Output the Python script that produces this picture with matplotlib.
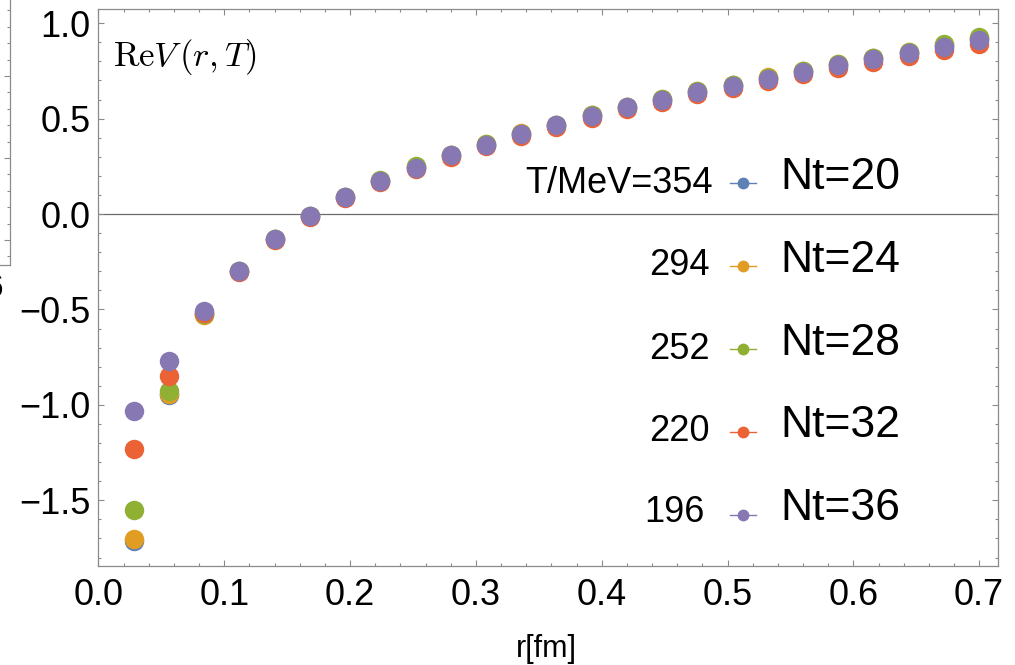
import matplotlib
matplotlib.use('Agg')
import matplotlib.pyplot as plt
import numpy as np
from matplotlib.lines import Line2D
from matplotlib.ticker import FuncFormatter, MultipleLocator

plt.rcParams['font.family'] = ['Liberation Sans', 'DejaVu Sans']
plt.rcParams['mathtext.fontset'] = 'cm'

# separations in units of the lattice spacing a = 0.028 fm
r_fm = 0.028 * np.arange(1, 26)

nt = [20, 24, 28, 32, 36]
temps = ['T/MeV=354', '294', '252', '220', '196']
colors = ['#5E81B5', '#E19C24', '#8FB032', '#EB6235', '#8778B3']

rev_nt20 = [-1.712, -0.950, -0.522, -0.298, -0.132, -0.010, 0.090, 0.173,
            0.245, 0.309, 0.364, 0.421, 0.467, 0.517, 0.561, 0.600, 0.640,
            0.675, 0.712, 0.748, 0.782, 0.815, 0.846, 0.881, 0.917]
rev_nt24 = [-1.705, -0.945, -0.528, -0.300, -0.133, -0.011, 0.091, 0.175,
            0.247, 0.311, 0.366, 0.422, 0.469, 0.518, 0.563, 0.602, 0.643,
            0.678, 0.716, 0.750, 0.784, 0.817, 0.850, 0.884, 0.920]
rev_nt28 = [-1.551, -0.926, -0.526, -0.301, -0.133, -0.011, 0.091, 0.176,
            0.249, 0.311, 0.365, 0.421, 0.469, 0.518, 0.562, 0.602, 0.642,
            0.676, 0.714, 0.751, 0.785, 0.818, 0.849, 0.889, 0.926]
rev_nt32 = [-1.233, -0.849, -0.520, -0.303, -0.137, -0.016, 0.085, 0.167,
            0.236, 0.300, 0.354, 0.410, 0.456, 0.505, 0.549, 0.587, 0.627,
            0.660, 0.696, 0.734, 0.766, 0.798, 0.828, 0.862, 0.893]
rev_nt36 = [-1.032, -0.770, -0.508, -0.297, -0.131, -0.010, 0.091, 0.173,
            0.243, 0.308, 0.363, 0.419, 0.466, 0.515, 0.559, 0.597, 0.638,
            0.671, 0.709, 0.746, 0.779, 0.812, 0.843, 0.877, 0.912]
series = [rev_nt20, rev_nt24, rev_nt28, rev_nt32, rev_nt36]

frame_gray = '#8a8a8a'

fig = plt.figure(figsize=(10.15, 6.65), dpi=100)
ax = fig.add_axes([0.0963, 0.1493, 0.887, 0.8371])

for vals, c in zip(series, colors):
    ax.plot(r_fm, vals, 'o', color=c, markersize=14, markeredgewidth=0)

ax.axhline(0, color='#6a6a6a', lw=0.9, zorder=0)
ax.set_xlim(-0.0006, 0.715)
ax.set_ylim(-1.843, 1.074)

ax.xaxis.set_major_locator(MultipleLocator(0.1))
ax.xaxis.set_minor_locator(MultipleLocator(0.02))
ax.yaxis.set_major_locator(MultipleLocator(0.5))
ax.yaxis.set_minor_locator(MultipleLocator(0.1))
fmt = FuncFormatter(lambda v, _: f'{v:.1f}'.replace('-', '\u2212'))
ax.xaxis.set_major_formatter(fmt)
ax.yaxis.set_major_formatter(fmt)
ax.tick_params(which='both', direction='in', top=True, right=True,
               color=frame_gray, width=0.8)
ax.tick_params(which='major', length=4.5, labelsize=26)
ax.tick_params(which='minor', length=2.5)
ax.tick_params(axis='x', which='major', pad=9)
ax.tick_params(axis='y', which='major', pad=5)
for sp in ax.spines.values():
    sp.set_color(frame_gray)
    sp.set_linewidth(0.9)

ax.text(0.017, 0.914, r'$\mathrm{Re}V\,(r,T)$', transform=ax.transAxes,
        fontsize=25, va='center', ha='left')
fig.text(0.538, 0.012, 'r[fm]', fontsize=22, ha='center', va='baseline')

# legend: glyph + Nt label, temperatures written to the left of each row
handles = [Line2D([], [], color=c, lw=1, marker='o', markersize=8.5,
                  markeredgewidth=0) for c in colors]
leg = ax.legend(handles, [f'Nt={n}' for n in nt], loc='center left',
                bbox_to_anchor=(0.7023, 0.382), frameon=False, fontsize=32,
                numpoints=1, handlelength=0.58, handletextpad=0.55,
                labelspacing=0.94, borderpad=0, borderaxespad=0)
for t in leg.get_texts():
    t.set_y(10)

row_y = [0.687, 0.540, 0.389, 0.241, 0.095]
row_x = [0.683, 0.680, 0.680, 0.680, 0.674]
for label, x, y in zip(temps, row_x, row_y):
    ax.text(x, y, label, transform=ax.transAxes, fontsize=26,
            ha='right', va='center')

# neighbouring panel, mostly outside the canvas
side = fig.add_axes([-0.5, 0.6015, 0.5 + 10 / 1015, 0.4])
side.set_xlim(0, 1)
side.set_ylim(-1.305, 1.939)
side.yaxis.set_major_locator(MultipleLocator(1))
side.yaxis.set_minor_locator(MultipleLocator(0.2))
side.set_xticks([])
side.tick_params(axis='y', which='both', left=False, right=True,
                 labelleft=False, direction='in', color=frame_gray, width=0.8)
side.tick_params(axis='y', which='major', length=4.5)
side.tick_params(axis='y', which='minor', length=2.5)
for name, sp in side.spines.items():
    sp.set_color(frame_gray)
    sp.set_linewidth(0.9)
    sp.set_visible(name in ('right', 'bottom'))
fig.text(3 / 1015, 0.553, '6', fontsize=24, ha='right', va='baseline')

fig.savefig('out.png', dpi=100)
